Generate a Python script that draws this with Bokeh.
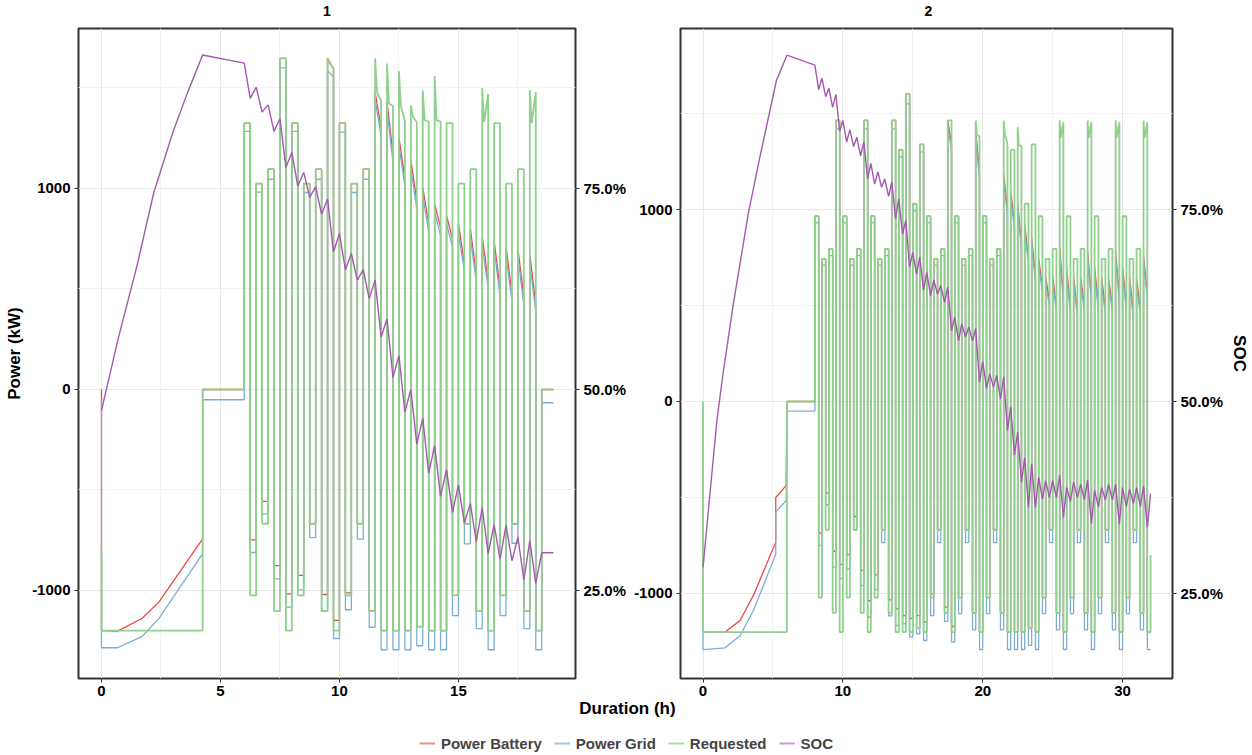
from bokeh.plotting import figure
from bokeh.models import (Range1d, LinearAxis, FixedTicker, NumeralTickFormatter,
                          Legend, LegendItem, Label)
from bokeh.layouts import row, column
from bokeh.embed import file_html
from bokeh.resources import INLINE

# ------------------------------------------------------------------ data
# secondary axis mapping used by the chart: power = (SOC - 0.5) * 4000
SOC_SCALE = 4000.0

# ---------------- panel 1
P1_HI_DUR = 0.25
P1_T0 = [6.0, 6.5, 7.0, 7.5, 8.0, 8.5, 9.0, 9.5, 10.0, 10.5, 11.0, 11.5, 12.0,
         12.5, 13.0, 13.5, 14.0, 14.5, 15.0, 15.5, 16.0, 16.5, 17.0, 17.5, 18.0]
P1_CYCLE_END = 18.5
P1_REQ_HI_A = [1325, 1024, 1096, 1647, 1325, 1024, 1096, 1647, 1325, 1024, 1096, 1647, 1622,
               1583, 1413, 1488, 1560, 1325, 1024, 1096, 1500, 1325, 1024, 1096, 1490]
P1_REQ_HI_B = [1325, 1024, 1096, 1647, 1325, 1024, 1096, 1625, 1325, 1024, 1096, 1480, 1423,
               1411, 1360, 1340, 1340, 1325, 1024, 1096, 1330, 1325, 1024, 1096, 1325]
P1_REQ_HI_C = [1325, 1024, 1096, 1647, 1325, 1024, 1096, 1596, 1325, 1024, 1096, 1437, 1410,
               1338, 1330, 1333, 1333, 1325, 1024, 1096, 1470, 1325, 1024, 1096, 1480]
P1_REQ_LO = [-1024, -668, -1103, -1200, -1024, -668, -1103, -1200, -1024, -668, -1103, -1200, -1200,
             -1200, -1180, -1200, -1200, -1024, -668, -1103, -1200, -1024, -668, -1103, -1200]
P1_BAT_HI_A = [1325, 1024, 1096, 1647, 1325, 1024, 1096, 1647, 1325, 1024, 1096, 1480, 1430,
               1255, 1140, 1005, 925, 865, 825, 800, 760, 740, 710, 700, 670]
P1_BAT_HI_C = [1325, 1024, 1096, 1647, 1325, 1024, 1096, 1596, 1325, 1024, 1096, 1300, 1170,
               1050, 940, 825, 805, 750, 625, 575, 540, 500, 476, 458, 425]
P1_BAT_LO = [-748, -557, -876, -1017, -925, -668, -1020, -1149, -1012, -668, -1100, -1200, -1200,
             -1200, -1180, -1200, -1200, -1024, -668, -1103, -1200, -1024, -668, -1103, -1200]
P1_GRID_HI_A = [1284, 982, 1046, 1600, 1284, 980, 1046, 1587, 1280, 980, 1046, 1440, 1390,
                1215, 1100, 965, 885, 825, 785, 760, 720, 700, 670, 660, 630]
P1_GRID_HI_C = [1284, 982, 1046, 1600, 1284, 980, 1046, 1555, 1280, 980, 1046, 1260, 1130,
                1010, 900, 785, 765, 710, 585, 535, 500, 460, 436, 418, 385]
P1_GRID_LO = [-811, -619, -942, -1083, -997, -737, -1103, -1239, -1096, -745, -1183, -1295, -1295,
              -1295, -1275, -1295, -1295, -1125, -768, -1190, -1295, -1125, -765, -1190, -1295]
P1_SOC_PEAK = [0.906, 0.876, 0.854, 0.837, 0.795, 0.770, 0.752, 0.737, 0.694, 0.669, 0.649, 0.636,
               0.588, 0.542, 0.500, 0.464, 0.430, 0.400, 0.381, 0.358, 0.353, 0.332, 0.331, 0.316, 0.312]
P1_SOC_TROUGH = [0.862, 0.845, 0.821, 0.776, 0.753, 0.739, 0.718, 0.671, 0.649, 0.636, 0.613, 0.565,
                 0.515, 0.472, 0.432, 0.396, 0.367, 0.347, 0.334, 0.311, 0.296, 0.289, 0.287, 0.263, 0.259]
# initial charge / rest and final rest
P1_REQ_PRE_T = [0, 0, 4.25, 4.25, 6.0]
P1_REQ_PRE_V = [-800, -1200, -1200, 0, 0]
P1_REQ_POST_T = [18.5, 18.99]
P1_REQ_POST_V = [0, 0]
P1_BAT_PRE_T = [0, 0, 0.68, 1.71, 2.41, 4.25, 4.25, 6.0]
P1_BAT_PRE_V = [0, -1200, -1202, -1138, -1058, -743, 0, 0]
P1_BAT_POST_T = [18.5, 18.99]
P1_BAT_POST_V = [0, 0]
P1_GRID_PRE_T = [0, 0, 0.68, 1.71, 2.41, 4.25, 4.25, 6.0]
P1_GRID_PRE_V = [-55, -1285, -1285, -1228, -1140, -817, -51, -51]
P1_GRID_POST_T = [18.5, 18.99]
P1_GRID_POST_V = [-66, -66]
P1_SOC_PRE_T = [0, 0.7, 1.5, 2.2, 3.0, 3.6, 4.25]
P1_SOC_PRE_V = [0.474, 0.563, 0.655, 0.745, 0.820, 0.868, 0.916]
P1_SOC_POST_T = [18.5, 18.99]
P1_SOC_POST_V = [0.297, 0.297]

# ---------------- panel 2
P2_HI_DUR = 0.27
P2_T0 = [8.0, 8.5, 9.0, 9.5, 10.0, 10.5, 11.0, 11.5, 12.0, 12.5, 13.0, 13.5,
         14.0, 14.5, 15.0, 15.5, 16.0, 16.5, 17.0, 17.5, 18.0, 18.5, 19.0, 19.5,
         20.0, 20.5, 21.0, 21.5, 22.0, 22.5, 23.0, 23.5, 24.0, 24.5, 25.0, 25.5,
         26.0, 26.5, 27.0, 27.5, 28.0, 28.5, 29.0, 29.5, 30.0, 30.5, 31.0, 31.5]
P2_CYCLE_END = 32.0
P2_REQ_HI_A = [965, 743, 795, 1464, 965, 743, 795, 1464, 965, 743, 795, 1464,
               1311, 1602, 1030, 1339, 965, 743, 795, 1464, 965, 743, 795, 1464,
               965, 743, 795, 1464, 1311, 1429, 1030, 1339, 965, 743, 795, 1464,
               965, 743, 795, 1464, 965, 743, 795, 1464, 965, 743, 795, 1464]
P2_REQ_HI_B = [965, 743, 795, 1464, 965, 743, 795, 1464, 965, 743, 795, 1464,
               1311, 1602, 1030, 1339, 965, 743, 795, 1464, 965, 743, 795, 1390,
               965, 743, 795, 1394, 1311, 1335, 1030, 1339, 965, 743, 795, 1373,
               965, 743, 795, 1373, 965, 743, 795, 1373, 965, 743, 795, 1373]
P2_REQ_HI_C = [965, 743, 795, 1464, 965, 743, 795, 1464, 965, 743, 795, 1464,
               1311, 1602, 1030, 1339, 965, 743, 795, 1464, 965, 743, 795, 1380,
               965, 743, 795, 1342, 1311, 1330, 1030, 1339, 965, 743, 795, 1455,
               965, 743, 795, 1455, 965, 743, 795, 1455, 965, 743, 795, 1455]
P2_REQ_LO = [-1022, -668, -1101, -1201, -1022, -668, -1101, -1201, -1022, -668, -1101, -1201,
             -1201, -1201, -1180, -1201, -1022, -668, -1101, -1201, -1022, -668, -1101, -1201,
             -1022, -668, -1101, -1201, -1201, -1201, -1180, -1201, -1022, -668, -1101, -1201,
             -1022, -668, -1101, -1201, -1022, -668, -1101, -1201, -1022, -668, -1101, -1201]
P2_BAT_HI_A = [965, 743, 795, 1464, 965, 743, 795, 1464, 965, 743, 795, 1464,
               1311, 1602, 1030, 1339, 965, 743, 795, 1464, 965, 743, 795, 1411,
               965, 743, 795, 1186, 1099, 1030, 925, 856, 745, 647, 655, 804,
               700, 650, 650, 786, 700, 650, 640, 786, 700, 650, 640, 760]
P2_BAT_HI_C = [965, 743, 795, 1464, 965, 743, 795, 1464, 965, 743, 795, 1464,
               1311, 1602, 1030, 1339, 965, 743, 795, 1340, 965, 743, 795, 1186,
               965, 743, 795, 995, 925, 823, 745, 647, 595, 526, 495, 543,
               480, 470, 500, 543, 500, 480, 500, 543, 500, 460, 480, 560]
P2_BAT_LO = [-686, -477, -780, -849, -798, -599, -880, -1038, -903, -668, -1033, -1080,
             -1115, -1130, -1115, -1149, -1002, -668, -1071, -1172, -1022, -668, -1101, -1201,
             -1022, -668, -1101, -1201, -1201, -1201, -1180, -1201, -1022, -668, -1101, -1201,
             -1022, -668, -1101, -1201, -1022, -668, -1101, -1201, -1022, -668, -1101, -1201]
P2_GRID_HI_A = [930, 710, 760, 1420, 930, 710, 760, 1420, 930, 710, 760, 1420,
                1275, 1550, 995, 1300, 930, 710, 760, 1434, 930, 710, 760, 1381,
                930, 710, 760, 1156, 1069, 1000, 895, 826, 715, 617, 625, 774,
                670, 620, 620, 756, 670, 620, 610, 756, 670, 620, 610, 730]
P2_GRID_HI_C = [930, 710, 760, 1420, 930, 710, 760, 1420, 930, 710, 760, 1420,
                1275, 1550, 995, 1300, 930, 710, 760, 1310, 930, 710, 760, 1156,
                930, 710, 760, 965, 895, 793, 715, 617, 565, 496, 465, 513,
                450, 440, 470, 513, 470, 450, 470, 513, 470, 430, 450, 530]
P2_GRID_LO = [-750, -538, -863, -923, -872, -668, -958, -1124, -980, -735, -1117, -1167,
              -1157, -1227, -1210, -1245, -1115, -735, -1145, -1253, -1105, -735, -1190, -1292,
              -1105, -735, -1190, -1292, -1292, -1292, -1270, -1292, -1105, -735, -1190, -1292,
              -1105, -735, -1190, -1292, -1105, -735, -1190, -1292, -1105, -735, -1190, -1292]
P2_SOC_PEAK = [0.938, 0.921, 0.908, 0.900, 0.866, 0.854, 0.844, 0.838, 0.810, 0.799, 0.790, 0.786,
               0.764, 0.736, 0.694, 0.688, 0.668, 0.658, 0.651, 0.649, 0.610, 0.601, 0.597, 0.595,
               0.552, 0.536, 0.534, 0.532, 0.493, 0.460, 0.427, 0.419, 0.401, 0.397, 0.397, 0.404,
               0.388, 0.395, 0.392, 0.398, 0.384, 0.388, 0.392, 0.392, 0.388, 0.386, 0.388, 0.390]
P2_SOC_TROUGH = [0.906, 0.897, 0.883, 0.852, 0.838, 0.832, 0.820, 0.790, 0.783, 0.779, 0.767, 0.738,
                 0.718, 0.675, 0.666, 0.645, 0.638, 0.640, 0.629, 0.592, 0.579, 0.584, 0.579, 0.525,
                 0.517, 0.519, 0.503, 0.462, 0.430, 0.395, 0.362, 0.362, 0.373, 0.375, 0.375, 0.349,
                 0.370, 0.375, 0.372, 0.341, 0.363, 0.372, 0.372, 0.340, 0.363, 0.367, 0.363, 0.336]
P2_REQ_PRE_T = [0, 0, 6.0, 6.0, 8.0]
P2_REQ_PRE_V = [0, -1201, -1201, 0, 0]
P2_REQ_POST_T = [32.0]
P2_REQ_POST_V = [-800]
P2_BAT_PRE_T = [0, 1.58, 2.65, 3.64, 5.2, 5.2, 5.95, 6.0, 8.0]
P2_BAT_PRE_V = [-1201, -1201, -1141, -1005, -733, -500, -437, 0, 0]
P2_GRID_PRE_T = [0, 0, 1.58, 2.65, 3.64, 5.2, 5.2, 5.95, 6.0, 8.0]
P2_GRID_PRE_V = [-1201, -1293, -1283, -1220, -1082, -796, -576, -516, -50, -50]
P2_SOC_PRE_T = [0, 0.99, 1.46, 2.17, 3.23, 4.06, 5.25, 6.0]
P2_SOC_PRE_V = [0.284, 0.475, 0.540, 0.627, 0.744, 0.818, 0.918, 0.951]
P2_SOC_POST_T = [32.0]
P2_SOC_POST_V = [0.380]

SERIES = ["Power Battery", "Power Grid", "Requested", "SOC"]
PANEL_TITLES = ["1", "2"]
X_TICKS_1 = [0, 5, 10, 15]
X_TICKS_2 = [0, 10, 20, 30]
Y_TICKS = [-1000, 0, 1000]
SOC_TICKS = [0.25, 0.5, 0.75]

# ------------------------------------------------------------------ style
FONT = "Liberation Sans"
COLORS = {"Power Battery": "#E9484A", "Power Grid": "#7DADD4",
          "Requested": "#8FD08C", "SOC": "#A458AE"}
WIDTHS = {"Power Battery": 1.3, "Power Grid": 1.3, "Requested": 1.8, "SOC": 1.4}
LEGEND_COLORS = {"Power Battery": "#F08A8B", "Power Grid": "#A3C6E2",
                 "Requested": "#A9DCA7", "SOC": "#C9A0CF"}
KINK = 0.08

# page geometry (pixels)
PAGE_W = 1252
STRIP_TOP_H = 26
PANEL_H = 674
STRIP_BOTTOM_H = 55
P1_W, P1_BL, P1_BR = 630, 78, 55
P2_W, P2_BL, P2_BR = 622, 50, 76


def step_series(pre_t, pre_v, t0s, hi_dur, end_t, hi_a, hi_c, lo, post_t, post_v, hi_b=None):
    xs, ys = list(pre_t), list(pre_v)
    for i, t in enumerate(t0s):
        t1 = t0s[i + 1] if i + 1 < len(t0s) else end_t
        xs += [t, t]
        ys += [ys[-1], hi_a[i]]
        if hi_b is not None:
            xs.append(t + KINK)
            ys.append(hi_b[i])
        xs += [t + hi_dur, t + hi_dur, t1]
        ys += [hi_c[i], lo[i], lo[i]]
    xs += list(post_t)
    ys += list(post_v)
    return xs, ys


def soc_series(pre_t, pre_v, t0s, hi_dur, peaks, troughs, post_t, post_v):
    xs, ys = list(pre_t), list(pre_v)
    for t, pk, tr in zip(t0s, peaks, troughs):
        xs += [t, t + hi_dur]
        ys += [pk, tr]
    xs += list(post_t)
    ys += list(post_v)
    return xs, ys


def style_axis(ax):
    ax.axis_line_color = None
    ax.major_tick_line_color = "#333333"
    ax.major_tick_in = 0
    ax.major_tick_out = 4
    ax.minor_tick_line_color = None
    ax.major_label_standoff = 4
    ax.major_label_text_font = FONT
    ax.major_label_text_font_style = "bold"
    ax.major_label_text_font_size = "15px"
    ax.major_label_text_color = "black"
    ax.axis_label_text_font = FONT
    ax.axis_label_text_font_style = "bold"
    ax.axis_label_text_font_size = "17px"
    ax.axis_label_text_color = "black"


def bare_strip(width, height):
    f = figure(width=width, height=height, x_range=Range1d(0, width), y_range=Range1d(0, height),
               output_backend="svg", toolbar_location=None, min_border=0)
    f.axis.visible = False
    f.grid.visible = False
    f.outline_line_color = None
    return f


def make_panel(xr, yr, xticks, xminor, width, bl, br, left_label, right_label,
               req, bat, grid, soc):
    p = figure(width=width, height=PANEL_H, x_range=Range1d(*xr), y_range=Range1d(*yr),
               output_backend="svg", toolbar_location=None,
               min_border_left=bl, min_border_right=br, min_border_top=2, min_border_bottom=22)
    p.extra_y_ranges = {"soc": Range1d(0.5 + yr[0] / SOC_SCALE, 0.5 + yr[1] / SOC_SCALE)}
    p.outline_line_color = "#333333"
    p.outline_line_width = 2
    p.background_fill_color = "white"
    p.border_fill_color = "white"

    p.xaxis.ticker = FixedTicker(ticks=xticks, minor_ticks=xminor)
    p.yaxis.ticker = FixedTicker(ticks=Y_TICKS, minor_ticks=[-1500, -500, 500, 1500])
    p.yaxis.major_label_overrides = {v: str(v) for v in Y_TICKS}
    for ax in p.xaxis + p.yaxis:
        style_axis(ax)
    p.xaxis.major_label_standoff = 3
    p.yaxis.axis_label = left_label
    p.yaxis.axis_label_standoff = 5

    rax = LinearAxis(y_range_name="soc", ticker=FixedTicker(ticks=SOC_TICKS),
                     formatter=NumeralTickFormatter(format="0.0%"))
    style_axis(rax)
    rax.axis_label = right_label
    rax.axis_label_standoff = 4
    p.add_layout(rax, "right")

    p.xgrid.grid_line_color = "#e8e8e8"
    p.ygrid.grid_line_color = "#e8e8e8"
    p.xgrid.minor_grid_line_color = "#f2f2f2"
    p.ygrid.minor_grid_line_color = "#f2f2f2"

    for name, (xs, ys) in (("Power Battery", bat), ("Power Grid", grid), ("Requested", req)):
        p.line(xs, ys, line_color=COLORS[name], line_width=WIDTHS[name])
    p.line(soc[0], soc[1], y_range_name="soc", line_color=COLORS["SOC"],
           line_width=WIDTHS["SOC"])
    return p


# ------------------------------------------------------------------ build series
p1_req = step_series(P1_REQ_PRE_T, P1_REQ_PRE_V, P1_T0, P1_HI_DUR, P1_CYCLE_END,
                     P1_REQ_HI_A, P1_REQ_HI_C, P1_REQ_LO, P1_REQ_POST_T, P1_REQ_POST_V, hi_b=P1_REQ_HI_B)
p1_bat = step_series(P1_BAT_PRE_T, P1_BAT_PRE_V, P1_T0, P1_HI_DUR, P1_CYCLE_END,
                     P1_BAT_HI_A, P1_BAT_HI_C, P1_BAT_LO, P1_BAT_POST_T, P1_BAT_POST_V)
p1_grid = step_series(P1_GRID_PRE_T, P1_GRID_PRE_V, P1_T0, P1_HI_DUR, P1_CYCLE_END,
                      P1_GRID_HI_A, P1_GRID_HI_C, P1_GRID_LO, P1_GRID_POST_T, P1_GRID_POST_V)
p1_soc = soc_series(P1_SOC_PRE_T, P1_SOC_PRE_V, P1_T0, P1_HI_DUR, P1_SOC_PEAK, P1_SOC_TROUGH,
                    P1_SOC_POST_T, P1_SOC_POST_V)

p2_req = step_series(P2_REQ_PRE_T, P2_REQ_PRE_V, P2_T0, P2_HI_DUR, P2_CYCLE_END,
                     P2_REQ_HI_A, P2_REQ_HI_C, P2_REQ_LO, P2_REQ_POST_T, P2_REQ_POST_V, hi_b=P2_REQ_HI_B)
p2_bat = step_series(P2_BAT_PRE_T, P2_BAT_PRE_V, P2_T0, P2_HI_DUR, P2_CYCLE_END,
                     P2_BAT_HI_A, P2_BAT_HI_C, P2_BAT_LO, [], [])
p2_grid = step_series(P2_GRID_PRE_T, P2_GRID_PRE_V, P2_T0, P2_HI_DUR, P2_CYCLE_END,
                      P2_GRID_HI_A, P2_GRID_HI_C, P2_GRID_LO, [], [])
p2_soc = soc_series(P2_SOC_PRE_T, P2_SOC_PRE_V, P2_T0, P2_HI_DUR, P2_SOC_PEAK, P2_SOC_TROUGH,
                    P2_SOC_POST_T, P2_SOC_POST_V)

fig1 = make_panel((-0.966, 19.92), (-1438, 1796), X_TICKS_1, [2.5, 7.5, 12.5, 17.5],
                  P1_W, P1_BL, P1_BR, "Power (kW)", None, p1_req, p1_bat, p1_grid, p1_soc)
fig2 = make_panel((-1.61, 33.57), (-1443, 1943), X_TICKS_2, [5, 15, 25],
                  P2_W, P2_BL, P2_BR, None, "SOC", p2_req, p2_bat, p2_grid, p2_soc)

# ------------------------------------------------------------------ top strip: facet titles
top = bare_strip(PAGE_W, STRIP_TOP_H)
panel_centres = [P1_BL + (P1_W - P1_BL - P1_BR) / 2,
                 P1_W + P2_BL + (P2_W - P2_BL - P2_BR) / 2]
for cx, txt in zip(panel_centres, PANEL_TITLES):
    top.add_layout(Label(x=cx, y=STRIP_TOP_H - 10, text=txt, text_align="center",
                         text_baseline="middle", text_font=FONT, text_font_style="bold",
                         text_font_size="14px", text_color="black"))

# ------------------------------------------------------------------ bottom strip: x title + legend
bottom = bare_strip(PAGE_W, STRIP_BOTTOM_H)
plot_area_centre = (P1_BL + P1_W + P2_W - P2_BR) / 2
bottom.add_layout(Label(x=plot_area_centre, y=STRIP_BOTTOM_H - 8, text="Duration (h)",
                        text_align="center", text_baseline="middle", text_font=FONT,
                        text_font_style="bold", text_font_size="17px", text_color="black"))
NAN = float("nan")
items = []
for name in SERIES:
    # legend proxy: a line with no drawable point
    r = bottom.line(x=[NAN], y=[NAN], line_color=LEGEND_COLORS[name], line_width=2)
    items.append(LegendItem(label=name, renderers=[r]))
legend = Legend(items=items, orientation="horizontal", location="bottom_center",
                background_fill_alpha=0, border_line_color=None, margin=2, padding=3,
                glyph_width=16, label_standoff=6, spacing=12,
                label_text_font=FONT, label_text_font_style="bold", label_text_font_size="15px")
bottom.add_layout(legend)

layout = column(top, row(fig1, fig2), bottom)
open("out.html", "w").write(file_html(layout, INLINE))
